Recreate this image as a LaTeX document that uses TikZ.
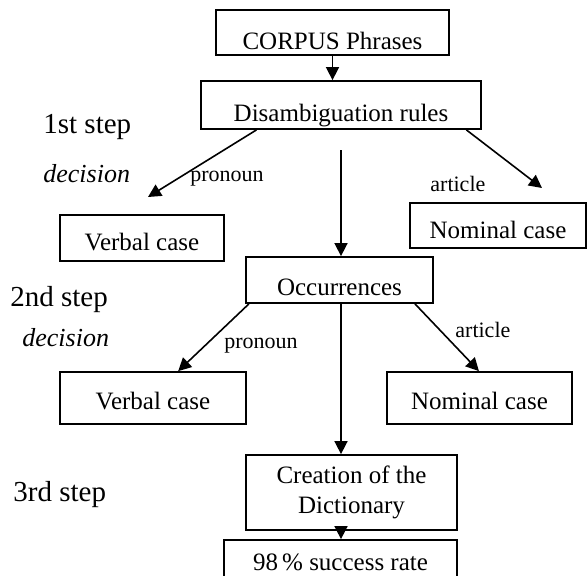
\documentclass[tikz,border=0pt]{standalone}
\usepackage{fontspec}
\setmainfont{Liberation Serif}
\usetikzlibrary{arrows.meta, calc}

\tikzset{
    box/.style={draw, rectangle, line width=0.9pt, inner sep=0pt, font=\fontsize{12.5}{15}\selectfont},
    lowtext/.style={text height=#1, text depth=0pt},
    steplabel/.style={anchor=west, inner sep=0pt, font=\fontsize{14.5}{17}\selectfont},
    decision/.style={anchor=west, inner sep=0pt, font=\fontsize{13}{15}\selectfont\itshape},
    branch/.style={anchor=west, inner sep=0pt, font=\fontsize{11}{13}\selectfont},
    flow/.style={-{Triangle[length=6.5pt, width=6.5pt]}, line width=0.8pt},
}

\begin{document}
\begin{tikzpicture}[x=0.5pt, y=-0.5pt]
    \clip (0,0) rectangle (588,575);

    \node[box, lowtext=16.5pt, minimum width=116.5pt, minimum height=22.5pt] (corpus) at (332.5,32.5) {CORPUS Phrases};
    \node[box, lowtext=16pt, minimum width=140pt, minimum height=24pt] (disamb) at (341,105) {Disambiguation rules};
    \node[box, lowtext=12pt, minimum width=82pt, minimum height=23pt] (verb1) at (142,238) {Verbal case};
    \node[box, lowtext=12.5pt, minimum width=88pt, minimum height=22.5pt] (nom1) at (498,225.5) {Nominal case};
    \node[box, lowtext=15pt, minimum width=93.5pt, minimum height=23pt] (occ) at (339.5,280) {Occurrences};
    \node[box, lowtext=11pt, minimum width=93pt, minimum height=26pt] (verb2) at (153,398) {Verbal case};
    \node[box, lowtext=11pt, minimum width=92.5pt, minimum height=26pt] (nom2) at (479.5,398) {Nominal case};
    \node[box, align=center, minimum width=105.5pt, minimum height=37.5pt] (creat) at (351.5,492.5) {Creation of the\\Dictionary};
    \node[box, lowtext=5pt, minimum width=116.5pt, minimum height=25pt] (rate) at (340.5,565) {98\,\% success rate};

    \node[steplabel] (step1) at (43,127) {1st step};
    \node[decision] (dec1) at (43,174) {decision};
    \node[steplabel] (step2) at (10,300) {2nd step};
    \node[decision] (dec2) at (22,338) {decision};
    \node[steplabel] (step3) at (13,495) {3rd step};

    \node[branch] (pron1) at (190,179) {pronoun};
    \node[branch] (art1) at (430,184) {article};
    \node[branch] (pron2) at (224,346) {pronoun};
    \node[branch] (art2) at (455,330) {article};

    \coordinate (pron1tip) at (148,197);
    \coordinate (art1tip) at (542,188);
    \coordinate (mid1) at (341,150);

    \draw[flow] (corpus.south) -- (corpus.south |- disamb.north);
    \draw[flow] ($(disamb.south west)!0.2!(disamb.south east)$) -- (pron1tip);
    \draw[flow] ($(disamb.south west)!0.945!(disamb.south east)$) -- (art1tip);
    \draw[flow] (mid1) -- (mid1 |- occ.north);
    \draw[flow] ($(occ.south west)!0.02!(occ.south east)$) -- ($(verb2.north west)!0.634!(verb2.north east)$);
    \draw[flow] ($(occ.south west)!0.9!(occ.south east)$) -- ($(nom2.north west)!0.497!(nom2.north east)$);
    \draw[flow] (mid1 |- occ.south) -- (mid1 |- creat.north);
    \draw[flow] (mid1 |- creat.south) -- (mid1 |- rate.north);
\end{tikzpicture}
\end{document}
